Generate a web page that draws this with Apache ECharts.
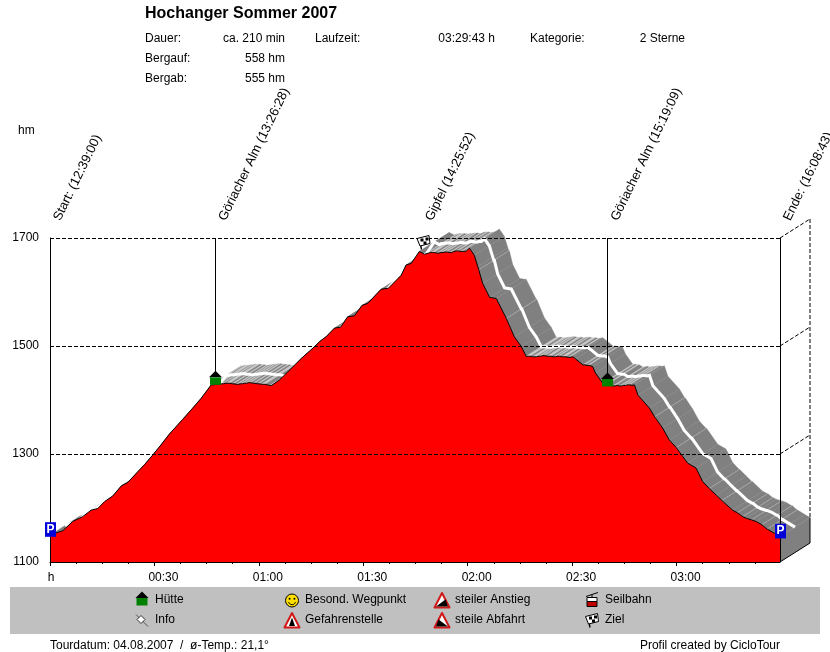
<!DOCTYPE html>
<html>
<head>
<meta charset="utf-8">
<style>html,body{margin:0;padding:0;background:#fff}#c{width:830px;height:652px}</style>
<script src="https://cdn.jsdelivr.net/npm/echarts@6/dist/echarts.min.js"></script>
</head>
<body>
<div id="c"></div>
<script>
// ---------- data ----------
const minutes = [
  0,3.7,6.5,9.4,11.8,13.7,15.7,18,20.5,22.3,25.2,27.1,29.5,31.9,34.3,38.1,41,43.4,
  46.3,46.9,47.5,48.1,48.7,49.3,49.9,50.5,51.1,51.7,52.3,52.9,53.5,54.1,54.7,55.3,55.9,56.5,57.1,57.7,58.3,58.9,59.5,60.1,60.7,61.3,61.9,62.5,63.1,63.7,64,
  65.9,68.3,72.2,76.2,77.4,79.3,81.7,83.5,85.5,87.5,89.6,91.3,95.1,97.2,100.9,102.3,103.8,106.1,107.6,
  108.1,108.7,109.3,109.9,110.5,111.1,111.7,112.3,112.9,113.5,114.1,114.8,115.4,116,116.7,117.3,117.9,118.5,119,119.6,120.5,
  121.9,122.9,123.2,123.35,124.3,126.3,128.2,131.1,131.25,133.4,135.4,136.8,
  137.4,138,138.6,139.2,139.8,140.4,141,141.6,142.2,142.8,143.4,144,144.6,145.2,145.8,146.4,147,147.6,148.2,148.8,149.4,150.2,
  151,153.1,153.7,154.3,154.9,155.9,156.7,158.8,159.4,160,160.6,161.7,162.3,163,163.6,164.2,164.8,165.4,166,166.6,167.2,167.9,
  168.9,172.2,173.7,173.85,176,177.9,179.9,180.05,183.2,185.6,187.5,189.4,189.55,191.4,193,193.15,196.1,197.5,197.65,199,199.15,200,201.5,201.65,202.9,204.5,204.65,206,206.15,208.2,209.72
];
const elevation = [
  1150,1158,1175,1184,1196,1199,1212,1222,1241,1247,1267,1280,1298,1317,1337,1364,1385,1403,
  1428,1428,1429,1429,1429,1430,1430,1431,1431,1431,1430,1430,1429,1429,1430,1430,1431,1431,1432,1432,1431,1431,1430,1430,1429,1429,1429,1428,1427,1427,1428,
  1437,1452,1477,1500,1508,1517,1533,1535,1554,1556,1575,1579,1605,1607,1631,1650,1653,1675,1670,
  1672,1672,1673,1673,1673,1672,1672,1673,1673,1674,1674,1673,1673,1675,1676,1676,1675,1675,1676,1676,1681,
  1668,1647,1641,1641,1616,1590,1588,1551,1551,1517,1499,1481,
  1481,1481,1480,1480,1480,1481,1481,1482,1482,1481,1481,1481,1480,1480,1481,1481,1480,1480,1480,1479,1479,1480,
  1476,1465,1465,1464,1464,1462,1450,1431,1431,1430,1430,1426,1426,1427,1426,1426,1427,1427,1428,1428,1427,1428,
  1409,1385,1369,1369,1348,1326,1312,1312,1283,1274,1249,1236,1236,1224,1214,1214,1196,1191,1191,1184,1184,1181,1178,1178,1175,1169,1169,1161,1161,1153,1147
];
const yTicks = [1100, 1300, 1500, 1700];
const tickMinutes = [0, 30, 60, 90, 120, 150, 180];
const tickLabels = ['h', '00:30', '01:00', '01:30', '02:00', '02:30', '03:00'];
const minorMinutes = [7.5,15,22.5,37.5,45,52.5,67.5,75,82.5,97.5,105,112.5,127.5,135,142.5,157.5,165,172.5,187.5,195,202.5];
const wpNames = ['Start: (12:39:00)', 'Göriacher Alm (13:26:28)', 'Gipfel (14:25:52)', 'Göriacher Alm (15:19:09)', 'Ende: (16:08:43)'];
const wpMinutes = [0, 47.47, 106.87, 160.15, 209.72];
const wpElevation = [1150, 1429, 1675, 1426, 1147];
const wpKinds = ['park', 'hut', 'flag', 'hut', 'park'];
const titleText = 'Hochanger Sommer 2007';
const infoLeft = [['Dauer:', 'ca. 210 min'], ['Bergauf:', '558 hm'], ['Bergab:', '555 hm']];
const infoMiddle = ['Laufzeit:', '03:29:43 h'];
const infoRight = ['Kategorie:', '2 Sterne'];
const legendItems = [
  ['hut', 'Hütte'], ['info', 'Info'],
  ['smile', 'Besond. Wegpunkt'], ['danger', 'Gefahrenstelle'],
  ['up', 'steiler Anstieg'], ['down', 'steile Abfahrt'],
  ['cable', 'Seilbahn'], ['flag', 'Ziel']
];
const footerLeft = 'Tourdatum: 04.08.2007  /  ø-Temp.: 21,1°';
const footerRight = 'Profil created by CicloTour';
const unitLabel = 'hm';

// ---------- style ----------
const FONT = '12px "Liberation Sans", Arial, sans-serif';
const WP_FONT = '13px "Liberation Sans", Arial, sans-serif';
const DEPTH = [30, -19];
const MAX_T = 209.72;
const profile = minutes.map((m, i) => [m, elevation[i]]);
const segments = profile.slice(0, -1).map((p, i) => [p[0], p[1], profile[i + 1][0], profile[i + 1][1]]);

function shift(p, k) { return [p[0] + DEPTH[0] * k, p[1] + DEPTH[1] * k]; }
function crisp(v) { return Math.round(v) + 0.5; }

function iconHut() {
  return [
    { type: 'polygon', shape: { points: [[-6.5, -2.5], [0, -9], [6.5, -2.5]] }, style: { fill: '#000' } },
    { type: 'rect', shape: { x: -5.5, y: -2.5, width: 11, height: 7.5 }, style: { fill: '#008000' } }
  ];
}
function iconPark() {
  return [
    { type: 'rect', shape: { x: -5.5, y: -7.3, width: 11, height: 14.6 }, style: { fill: '#0000d8' } },
    { type: 'text', style: { text: 'P', x: 0, y: 0, textAlign: 'center', textVerticalAlign: 'middle', fill: '#fff', font: 'bold 12px "Liberation Sans", Arial, sans-serif' } }
  ];
}
function iconFlag() {
  const black = { fill: '#000' };
  return [
    { type: 'line', shape: { x1: -4, y1: -3, x2: -2, y2: 7 }, style: { stroke: '#000', lineWidth: 1.4 } },
    { type: 'polygon', shape: { points: [[-6.5, -4], [5.5, -7], [6.5, 1], [-3.5, 3.5]] }, style: { fill: '#fff', stroke: '#000', lineWidth: 1 } },
    { type: 'rect', shape: { x: -3, y: -4, width: 3, height: 3 }, style: black },
    { type: 'rect', shape: { x: 2, y: -5, width: 3, height: 3 }, style: black },
    { type: 'rect', shape: { x: 0, y: -1, width: 3, height: 3 }, style: black }
  ];
}
function iconSmile() {
  return [
    { type: 'circle', shape: { cx: 0, cy: 0, r: 6.5 }, style: { fill: '#ffe000', stroke: '#000', lineWidth: 1 } },
    { type: 'circle', shape: { cx: -2.4, cy: -1.8, r: 1 }, style: { fill: '#000' } },
    { type: 'circle', shape: { cx: 2.4, cy: -1.8, r: 1 }, style: { fill: '#000' } },
    { type: 'arc', shape: { cx: 0, cy: 0.5, r: 3.6, startAngle: 0.3, endAngle: Math.PI - 0.3 }, style: { stroke: '#000', fill: 'none', lineWidth: 1 } }
  ];
}
function triangle() {
  return [
    { type: 'polygon', shape: { points: [[0, -7.5], [7.5, 7], [-7.5, 7]] }, style: { fill: '#fff', stroke: '#d01818', lineWidth: 2, lineJoin: 'round' } }
  ];
}
function iconDanger() {
  return triangle().concat([
    { type: 'polygon', shape: { points: [[0, -3], [3, 5.5], [-3, 5.5]] }, style: { fill: '#000' } }
  ]);
}
function iconUp() {
  return triangle().concat([
    { type: 'polygon', shape: { points: [[3.5, -1], [6, 6], [-6, 6]] }, style: { fill: '#000' } }
  ]);
}
function iconDown() {
  return triangle().concat([
    { type: 'polygon', shape: { points: [[-3.5, -1], [6, 6], [-6, 6]] }, style: { fill: '#000' } }
  ]);
}
function iconCable() {
  return [
    { type: 'line', shape: { x1: -6, y1: -4, x2: 6, y2: -8 }, style: { stroke: '#000', lineWidth: 1 } },
    { type: 'line', shape: { x1: 0, y1: -6, x2: 0, y2: -3 }, style: { stroke: '#000', lineWidth: 1 } },
    { type: 'rect', shape: { x: -5, y: -3, width: 10, height: 4 }, style: { fill: '#fff', stroke: '#000', lineWidth: 1 } },
    { type: 'rect', shape: { x: -5, y: 1, width: 10, height: 5 }, style: { fill: '#c00000', stroke: '#000', lineWidth: 1 } }
  ];
}
function iconInfo() {
  return [
    { type: 'line', shape: { x1: -6, y1: -6, x2: 6, y2: 6 }, style: { stroke: '#555', lineWidth: 1 } },
    { type: 'polygon', shape: { points: [[-5, -1], [-1, -5], [3, -1], [-1, 3]] }, style: { fill: '#fff', stroke: '#333', lineWidth: 1 } }
  ];
}
const ICONS = { hut: iconHut, park: iconPark, flag: iconFlag, smile: iconSmile, danger: iconDanger, up: iconUp, down: iconDown, cable: iconCable, info: iconInfo };

function txt(x, y, text, align, font) {
  return { type: 'text', x: x, y: y, style: { text: text, textAlign: align || 'left', textVerticalAlign: 'middle', fill: '#000', font: font || FONT } };
}

// ---------- page furniture ----------
const graphics = [];
graphics.push(txt(145, 14, titleText, 'left', 'bold 16px "Liberation Sans", Arial, sans-serif'));
infoLeft.forEach((row, i) => {
  graphics.push(txt(145, 38.5 + i * 20, row[0]));
  graphics.push(txt(285, 38.5 + i * 20, row[1], 'right'));
});
graphics.push(txt(315, 38.5, infoMiddle[0]));
graphics.push(txt(495, 38.5, infoMiddle[1], 'right'));
graphics.push(txt(530, 38.5, infoRight[0]));
graphics.push(txt(685, 38.5, infoRight[1], 'right'));
graphics.push(txt(18, 130.5, unitLabel));
graphics.push({ type: 'rect', shape: { x: 10, y: 587, width: 810, height: 47 }, style: { fill: '#c0c0c0' } });
legendItems.forEach((item, i) => {
  const col = Math.floor(i / 2), row = i % 2;
  const y = 600 + row * 20;
  graphics.push({ type: 'group', x: 142 + col * 150, y: y + 0.5, children: ICONS[item[0]]() });
  graphics.push(txt(155 + col * 150, y, item[1]));
});
graphics.push(txt(50, 645.5, footerLeft));
graphics.push(txt(780, 645.5, footerRight, 'right'));

// ---------- chart ----------
const chart = echarts.init(document.getElementById('c'), null, { renderer: 'canvas' });
chart.setOption({
  animation: false,
  backgroundColor: '#fff',
  textStyle: { fontFamily: '"Liberation Sans", Arial, sans-serif' },
  graphic: { elements: graphics },
  grid: { left: 50, right: 50, top: 238, bottom: 90, containLabel: false },
  xAxis: [{
    type: 'value', min: 0, max: MAX_T, z: 5,
    splitLine: { show: false },
    axisLine: { show: true, onZero: false, lineStyle: { color: '#000', width: 1 } },
    axisTick: { show: true, length: 4, customValues: tickMinutes, lineStyle: { color: '#000' } },
    axisLabel: {
      customValues: tickMinutes, margin: 10, color: '#000', fontSize: 12, hideOverlap: false,
      formatter: v => { const s = tickLabels[tickMinutes.indexOf(v)]; return s === 'h' ? '{h|h}' : '{t|' + s + '}'; },
      rich: { h: { fontSize: 12, color: '#000', padding: [0, 0, 0, 2] }, t: { fontSize: 12, color: '#000', padding: [0, 0, 0, 18] } }
    }
  }, {
    type: 'value', min: 0, max: MAX_T, z: 5, position: 'bottom',
    splitLine: { show: false },
    axisLine: { show: false },
    axisLabel: { show: false },
    axisTick: { show: true, length: 2, customValues: minorMinutes, lineStyle: { color: '#000' } }
  }],
  yAxis: {
    type: 'value', min: 1100, max: 1700, interval: 200, z: 5,
    axisLine: { show: true, onZero: false, lineStyle: { color: '#000', width: 1 } },
    axisTick: { show: false },
    axisLabel: { color: '#000', fontSize: 12, margin: 11, padding: [2, 0, 0, 0], formatter: v => String(v) },
    splitLine: { show: true, lineStyle: { color: '#000', type: [4, 2], width: 1 } }
  },
  series: [
    { // ribbon behind the profile, one parallelogram per track segment
      type: 'custom', z: 1, silent: true, clip: false,
      data: segments,
      encode: { x: [0, 2], y: [1, 3] },
      renderItem: (params, api) => {
        const a = api.coord([api.value(0), api.value(1)]);
        const b = api.coord([api.value(2), api.value(3)]);
        const level = api.value(1) === api.value(3);
        const c = level ? '#c4c4c4' : '#808080';
        return { type: 'polygon', shape: { points: [a, b, shift(b, 1), shift(a, 1)] }, style: { fill: c, stroke: c, lineWidth: 0.4 } };
      }
    },
    { // centre line on the ribbon and the end wall with the rear grid
      type: 'custom', z: 2, silent: true, clip: false,
      data: [[MAX_T, elevation[elevation.length - 1]]],
      encode: { x: 0, y: 1 },
      renderItem: (params, api) => {
        const pts = profile.map(p => shift(api.coord(p), 0.5));
        const top = api.coord([MAX_T, elevation[elevation.length - 1]]);
        const bottom = api.coord([MAX_T, 1100]);
        const dash = { stroke: '#000', lineWidth: 1, lineDash: [4, 2] };
        const children = [
          { type: 'polygon', shape: { points: [top, shift(top, 1), shift(bottom, 1), bottom] }, style: { fill: '#808080' } },
          { type: 'polyline', shape: { points: pts }, style: { stroke: '#fff', lineWidth: 3, fill: 'none' } },
          { type: 'line', shape: { x1: bottom[0], y1: bottom[1], x2: shift(bottom, 1)[0], y2: shift(bottom, 1)[1] }, style: { stroke: '#000', lineWidth: 1 } },
          { type: 'line', shape: { x1: shift(bottom, 1)[0], y1: shift(bottom, 1)[1], x2: shift(top, 1)[0], y2: shift(top, 1)[1] }, style: { stroke: '#000', lineWidth: 1 } }
        ];
        const high = shift(api.coord([MAX_T, 1700]), 1);
        children.push({ type: 'line', shape: { x1: high[0], y1: high[1], x2: high[0], y2: shift(top, 1)[1] }, style: dash });
        yTicks.slice(1).forEach(v => {
          const p = api.coord([MAX_T, v]), q = shift(p, 1);
          children.push({ type: 'line', shape: { x1: p[0], y1: p[1], x2: q[0], y2: q[1] }, style: dash });
        });
        return { type: 'group', children: children };
      }
    },
    { // the profile
      type: 'line', z: 3, silent: true, data: profile, showSymbol: false, smooth: false,
      lineStyle: { color: '#000', width: 1 },
      areaStyle: { color: '#ff0000', opacity: 1 },
      itemStyle: { color: '#ff0000' }
    },
    { // way points
      type: 'custom', z: 10, silent: true, clip: false,
      data: wpMinutes.map((m, i) => [m, wpElevation[i], i]),
      encode: { x: 0, y: 1 },
      renderItem: (params, api) => {
        const i = api.value(2), kind = wpKinds[i];
        const p = api.coord([api.value(0), api.value(1)]);
        const top = api.coord([api.value(0), 1700]);
        const x = crisp(top[0] - 0.5 + 0.01);
        const children = [];
        if (kind === 'hut') children.push({ type: 'line', shape: { x1: x, y1: top[1], x2: x, y2: p[1] - 10 }, style: { stroke: '#000', lineWidth: 1 } });
        if (i === wpNames.length - 1) {
          const b = api.coord([api.value(0), 1100]);
          children.push({ type: 'line', shape: { x1: x, y1: top[1], x2: x, y2: b[1] }, style: { stroke: '#000', lineWidth: 1 } });
        }
        const dy = kind === 'hut' ? -4.5 : kind === 'flag' ? -9 : -5.5;
        const dx = kind === 'flag' ? 1 : 0;
        children.push({ type: 'group', x: x + dx, y: p[1] + dy, children: ICONS[kind]() });
        children.push({ type: 'text', x: top[0] + 7, y: 220, rotation: 64 * Math.PI / 180,
          style: { text: wpNames[i], textAlign: 'left', textVerticalAlign: 'middle', fill: '#000', font: WP_FONT } });
        return { type: 'group', children: children };
      }
    }
  ]
});
</script>
</body>
</html>
